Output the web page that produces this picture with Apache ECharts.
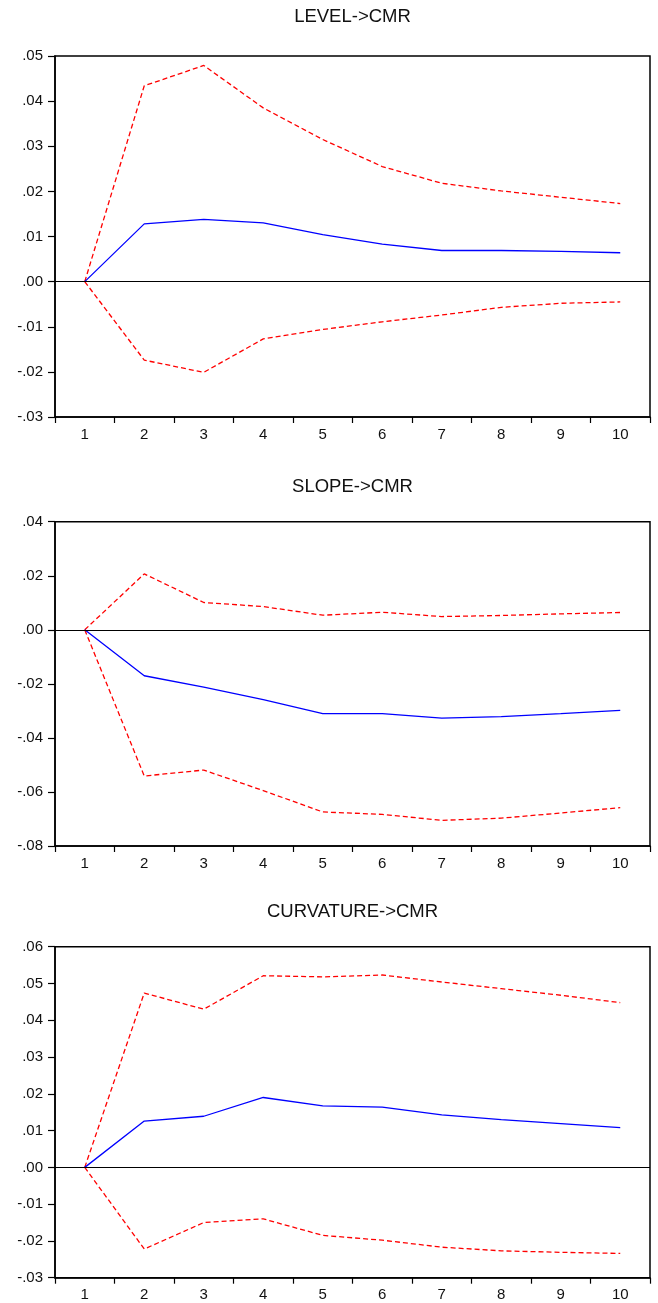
<!DOCTYPE html>
<html>
<head>
<meta charset="utf-8">
<script src="https://cdn.jsdelivr.net/npm/echarts@6/dist/echarts.min.js"></script>
<style>
html,body{margin:0;padding:0;background:#fff;}
#chart{width:658px;height:1303px;}
</style>
</head>
<body>
<div id="chart"></div>
<script>
// Data
const periods = ['1','2','3','4','5','6','7','8','9','10'];
const titles = ['LEVEL->CMR', 'SLOPE->CMR', 'CURVATURE->CMR'];

const levelResp  = [0, 0.0128, 0.0138, 0.0130, 0.0104, 0.0083, 0.0069, 0.0069, 0.0067, 0.0064];
const levelUpper = [0, 0.0434, 0.0479, 0.0385, 0.0315, 0.0255, 0.0218, 0.0201, 0.0187, 0.0173];
const levelLower = [0, -0.0174, -0.0201, -0.0127, -0.0106, -0.0089, -0.0074, -0.0057, -0.0048, -0.0045];

const slopeResp  = [0, -0.0170, -0.0212, -0.0258, -0.0310, -0.0310, -0.0327, -0.0321, -0.0310, -0.0298];
const slopeUpper = [0, 0.0207, 0.0101, 0.0086, 0.0054, 0.0065, 0.0049, 0.0053, 0.0059, 0.0064];
const slopeLower = [0, -0.0541, -0.0519, -0.0595, -0.0674, -0.0683, -0.0705, -0.0697, -0.0678, -0.0658];

const curvResp  = [0, 0.0126, 0.0139, 0.0190, 0.0167, 0.0164, 0.0143, 0.0130, 0.0119, 0.0108];
const curvUpper = [0, 0.0474, 0.0430, 0.0521, 0.0518, 0.0523, 0.0504, 0.0486, 0.0468, 0.0448];
const curvLower = [0, -0.0222, -0.0150, -0.0140, -0.0185, -0.0198, -0.0217, -0.0227, -0.0231, -0.0234];

const yMin = [-0.03, -0.08, -0.03];
const yMax = [0.05, 0.04, 0.06];
const yStep = [0.01, 0.02, 0.01];

const panels = [
  {resp: levelResp, up: levelUpper, lo: levelLower},
  {resp: slopeResp, up: slopeUpper, lo: slopeLower},
  {resp: curvResp, up: curvUpper, lo: curvLower}
];

// Layout
const gridTops = [56, 521.7, 946.7];
const gridHeights = [361, 324.3, 331];
const titleY = [17, 487, 911.5];
const gLeft = 55, gRight = 8;

const chart = echarts.init(document.getElementById('chart'), null, {renderer: 'canvas'});
const FONT = 'Liberation Sans, Arial, sans-serif';

function fmt(v) {
  const r = Math.round(v * 100) / 100;
  let s = Math.abs(r).toFixed(2).replace(/^0/, '');
  return (r < 0 ? '-' : '') + s;
}

const grid = [], xAxis = [], yAxis = [], series = [], graphic = [];
panels.forEach((p, i) => {
  grid.push({left: gLeft, right: gRight, top: gridTops[i], height: gridHeights[i],
    show: true, borderColor: '#000', borderWidth: 1.5, backgroundColor: 'transparent'});
  xAxis.push({
    type: 'category', gridIndex: i, data: periods, boundaryGap: true,
    axisLine: {show: true, onZero: false, lineStyle: {color: '#000', width: 1.5}},
    axisTick: {show: true, inside: false, length: 6, alignWithLabel: false, lineStyle: {color: '#000', width: 1.2}},
    axisLabel: {color: '#111', fontSize: 15, fontFamily: FONT, margin: 10, interval: 0},
    splitLine: {show: false}
  });
  yAxis.push({
    type: 'value', gridIndex: i, min: yMin[i], max: yMax[i], interval: yStep[i],
    axisLine: {show: true, onZero: false, lineStyle: {color: '#000', width: 1.5}},
    axisTick: {show: true, inside: false, length: 7, lineStyle: {color: '#000', width: 1.2}},
    axisLabel: {color: '#111', fontSize: 15, fontFamily: FONT, margin: 12, formatter: fmt},
    splitLine: {show: false}
  });
  series.push({
    type: 'line', xAxisIndex: i, yAxisIndex: i, data: p.resp, symbol: 'none',
    lineStyle: {color: '#0000ff', width: 1.3}, z: 4,
    markLine: {silent: true, symbol: ['none', 'none'], label: {show: false},
      lineStyle: {color: '#000', width: 1.2, type: 'solid'}, data: [{yAxis: 0}], animation: false}
  });
  series.push({
    type: 'line', xAxisIndex: i, yAxisIndex: i, data: p.up, symbol: 'none',
    lineStyle: {color: '#ff0000', width: 1.3, type: [5, 3]}, z: 3
  });
  series.push({
    type: 'line', xAxisIndex: i, yAxisIndex: i, data: p.lo, symbol: 'none',
    lineStyle: {color: '#ff0000', width: 1.3, type: [5, 3]}, z: 3
  });
  graphic.push({
    type: 'text', x: gLeft + (658 - gLeft - gRight) / 2, y: titleY[i],
    style: {text: titles[i], fill: '#111', font: '18.5px ' + FONT, textAlign: 'center', textVerticalAlign: 'middle'}
  });
});

chart.setOption({
  animation: false,
  backgroundColor: '#fff',
  grid, xAxis, yAxis, series, graphic
});
</script>
</body>
</html>
